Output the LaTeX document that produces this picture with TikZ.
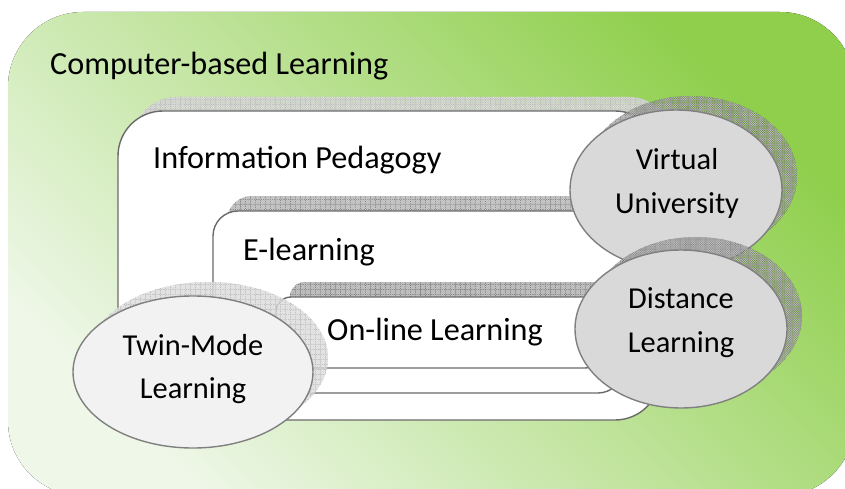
\documentclass[tikz,border=0pt]{standalone}
\usepackage{fontspec}
\setmainfont{Carlito}
\usetikzlibrary{patterns.meta}
\definecolor{gdark}{HTML}{8FCF4C}
\definecolor{gmid}{HTML}{BCDF9E}
\definecolor{glight}{HTML}{EEF7E8}
\definecolor{boxedge}{HTML}{6A6A6A}
\definecolor{ovaledge}{HTML}{808080}
\definecolor{twinfill}{HTML}{F2F2F2}
\definecolor{ovalfill}{HTML}{D9D9D9}
\begin{document}
\begin{tikzpicture}[x=1pt,y=-1pt,
  boxlabel/.style={font=\fontsize{32.2}{38}\selectfont, anchor=base west, inner sep=0},
  ovallabel/.style={font=\fontsize{30.4}{43}\selectfont, anchor=base, inner sep=0},
  frame/.style={draw=boxedge, line width=1.4pt, fill=white},
  oval/.style={draw=ovaledge, line width=1.4pt},
  grid/.style={pattern={Hatch[angle=0,distance=5pt,line width=0.45pt]}, pattern color=#1},
  fine/.style={pattern={Hatch[angle=45,distance=1.6pt,line width=0.3pt]}, pattern color=#1}
]
\useasboundingbox (0,0) rectangle (845,489);
\begin{scope}
\clip (0,0) rectangle (845,489);
\fill[shading=axis, bottom color=glight, middle color=gmid, top color=gdark, shading angle=-45, rounded corners=75pt] (8,12) rectangle (855,496);
\end{scope}

% Information Pedagogy box
\fill[black!22, opacity=0.75, rounded corners=45pt] (132,97) rectangle (674,406);
\fill[grid=black!30, rounded corners=45pt] (132,97) rectangle (674,406);
\fill[fine=black!12, rounded corners=45pt] (132,97) rectangle (674,406);
\path[frame, rounded corners=45pt] (118,111) rectangle (660,420);

% E-learning box
\fill[black!38, opacity=0.7, rounded corners=25pt] (227,196) rectangle (637,378);
\fill[grid=black!50, rounded corners=25pt] (227,196) rectangle (637,378);
\fill[fine=black!20, rounded corners=25pt] (227,196) rectangle (637,378);
\path[frame, rounded corners=25pt] (213,211) rectangle (623,393);

% On-line box
\fill[black!42, opacity=0.7, rounded corners=15pt] (290,282) rectangle (614,353);
\fill[grid=black!55, rounded corners=15pt] (290,282) rectangle (614,353);
\fill[fine=black!22, rounded corners=15pt] (290,282) rectangle (614,353);
\path[frame, rounded corners=15pt] (276,297) rectangle (600,368);

% Twin-Mode
\fill[black!20, opacity=0.6] (208,358) ellipse [x radius=120, y radius=76];
\fill[grid=black!28] (208,358) ellipse [x radius=120, y radius=76];
\fill[fine=black!10] (208,358) ellipse [x radius=120, y radius=76];
\path[oval, fill=twinfill] (193,372) ellipse [x radius=120, y radius=76];

% Virtual University
\fill[black, opacity=0.33] (691,176) ellipse [x radius=106, y radius=80];
\fill[grid=black!50] (691,176) ellipse [x radius=106, y radius=80];
\fill[fine=black!25] (691,176) ellipse [x radius=106, y radius=80];
\path[oval, fill=ovalfill] (676,190) ellipse [x radius=106, y radius=80];

% Distance Learning
\fill[black, opacity=0.33] (696,316) ellipse [x radius=106, y radius=79];
\fill[grid=black!50] (696,316) ellipse [x radius=106, y radius=79];
\fill[fine=black!25] (696,316) ellipse [x radius=106, y radius=79];
\path[oval, fill=ovalfill] (681,329) ellipse [x radius=106, y radius=79];

% labels
\node[boxlabel] (cbl) at (50,75) {Computer-based Learning};
\node[boxlabel] (ip) at (153,168) {Information Pedagogy};
\node[boxlabel] (el) at (243,260) {E-learning};
\node[boxlabel] (ol) at (327,340) {On-line Learning};
\node[ovallabel] (tm1) at (193,355) {Twin-Mode};
\node[ovallabel] (tm2) at (193,398) {Learning};
\node[ovallabel] (vu1) at (677,170) {Virtual};
\node[ovallabel] (vu2) at (677,213) {University};
\node[ovallabel] (dl1) at (681,308) {Distance};
\node[ovallabel] (dl2) at (681,352) {Learning};
\end{tikzpicture}
\end{document}
